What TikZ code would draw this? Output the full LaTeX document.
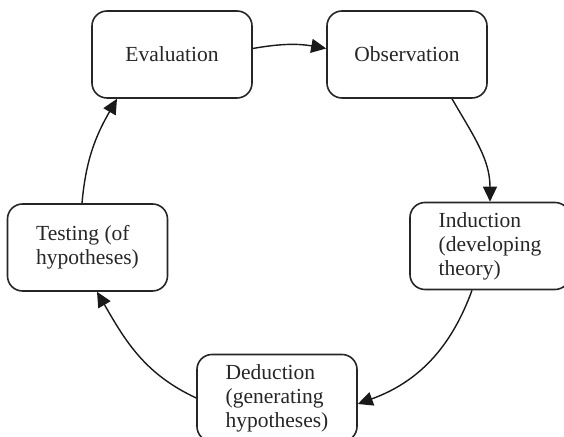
\documentclass[tikz,border=0pt]{standalone}
\usepackage{fontspec}
\setmainfont{Liberation Serif}
\usetikzlibrary{arrows.meta}
\begin{document}
\begin{tikzpicture}[x=0.5pt,y=0.5pt,
  stagebox/.style={draw=black!85, line width=0.8pt, rounded corners=7.5pt,
    minimum width=80pt, minimum height=43.5pt, align=left, text=black!85,
    font=\fontsize{10.75pt}{12pt}\selectfont},
  cyclearrow/.style={draw=black!90, line width=0.7pt, -{Triangle[length=7.5pt,width=7pt]}}]
\useasboundingbox (0,0) rectangle (564,437);
\node[stagebox] (eval) at (172,382.5) {Evaluation};
\node[stagebox] (obs) at (407,382.5) {Observation};
\node[stagebox] (ind) at (490,191) {Induction\\(developing\\theory)};
\node[stagebox] (ded) at (277,39) {Deduction\\(generating\\hypotheses)};
\node[stagebox] (test) at (87.5,189.5) {Testing (of\\hypotheses)};
\draw[cyclearrow] ([yshift=3pt]eval.east) to[out=10,in=170] ([yshift=3pt]obs.west);
\draw[cyclearrow] ([xshift=22.5pt]obs.south) to[out=-60,in=90] (ind.north);
\draw[cyclearrow] ([xshift=-9pt]ind.south) to[out=-110,in=20] ([yshift=-3pt]ded.east);
\draw[cyclearrow] (ded.west) to[out=155,in=-60] ([xshift=4.75pt]test.south);
\draw[cyclearrow] ([xshift=-2.75pt]test.north) to[out=85,in=-120] ([xshift=-27.5pt]eval.south);
\end{tikzpicture}
\end{document}
